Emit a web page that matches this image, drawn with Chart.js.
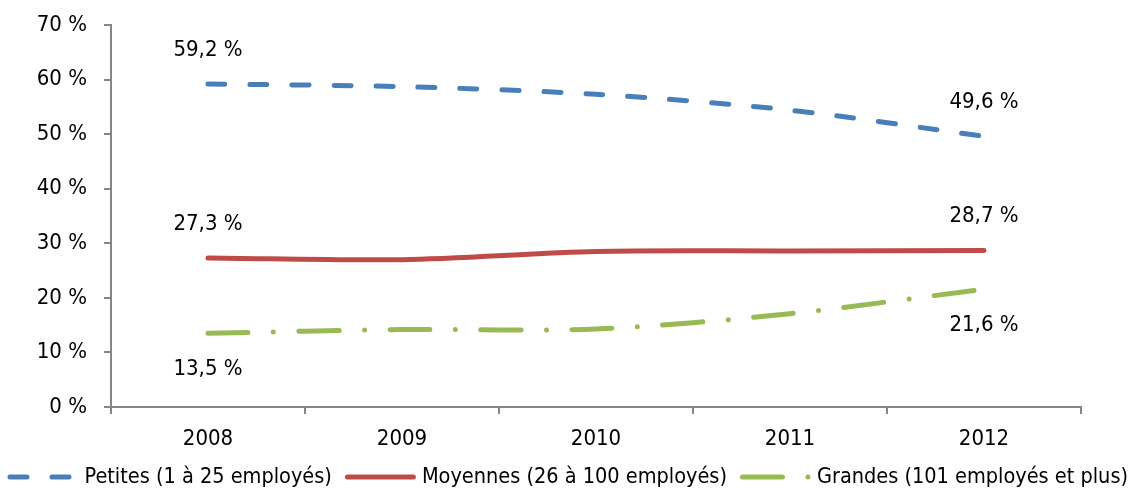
<!DOCTYPE html>
<html lang="fr">
<head>
<meta charset="utf-8">
<script src="https://cdn.jsdelivr.net/npm/chart.js@4/dist/chart.umd.min.js"></script>
<style>
  html, body { margin: 0; padding: 0; background: #ffffff; }
  #wrap { width: 1131px; height: 490px; }
</style>
</head>
<body>
<div id="wrap"><canvas id="chart" width="1131" height="490"></canvas></div>
<script>
// Répartition des entreprises selon la taille, 2008-2012 (%)
const years = ['2008', '2009', '2010', '2011', '2012'];
const petites = [59.2, 58.7, 57.3, 54.4, 49.6];
const moyennes = [27.3, 27.0, 28.5, 28.6, 28.7];
const grandes = [13.5, 14.2, 14.3, 17.1, 21.6];
const seriesNames = [
  'Petites (1 à 25 employés)',
  'Moyennes (26 à 100 employés)',
  'Grandes (101 employés et plus)'
];
const yTicks = [0, 10, 20, 30, 40, 50, 60, 70];

const FONT = "'DejaVu Sans Condensed', 'DejaVu Sans', sans-serif";
const FONT_SIZE = 22;
const LEGEND_FONT_SIZE = 21.5;
const AXIS = '#868686';

function fmt(v) {
  return v.toFixed(1).replace('.', ',') + ' %';
}

// Étiquettes de valeur aux extrémités de chaque courbe
const endLabels = {
  id: 'endLabels',
  afterDatasetsDraw(chart) {
    const ctx = chart.ctx;
    ctx.save();
    ctx.font = FONT_SIZE + 'px ' + FONT;
    ctx.fillStyle = '#000000';
    ctx.textAlign = 'center';
    ctx.textBaseline = 'middle';
    chart.data.datasets.forEach((ds, di) => {
      const meta = chart.getDatasetMeta(di);
      const last = ds.data.length - 1;
      [0, last].forEach(i => {
        const pt = meta.data[i];
        const dy = ds.labelBelow ? 36 : -34;
        ctx.fillText(fmt(ds.data[i]), pt.x, pt.y + dy);
      });
    });
    ctx.restore();
  }
};

// Légende horizontale sous le graphique, avec le motif de trait de chaque série
const lineLegend = {
  id: 'lineLegend',
  afterDraw(chart, args, opts) {
    const ctx = chart.ctx;
    const sample = opts.sampleWidth;
    ctx.save();
    ctx.font = LEGEND_FONT_SIZE + 'px ' + FONT;
    ctx.textBaseline = 'middle';
    ctx.textAlign = 'left';
    const items = chart.data.datasets.map(ds => ({
      ds,
      textW: ctx.measureText(ds.label).width
    }));
    let total = 0;
    items.forEach((it, i) => {
      total += sample + opts.textGap + it.textW;
      if (i < items.length - 1) total += opts.itemGap;
    });
    let x = opts.centerX - total / 2;
    const y = opts.y;
    items.forEach(it => {
      const ds = it.ds;
      ctx.beginPath();
      ctx.lineWidth = ds.borderWidth;
      ctx.strokeStyle = ds.borderColor;
      ctx.lineCap = ds.borderCapStyle || 'butt';
      ctx.setLineDash(ds.borderDash || []);
      ctx.lineDashOffset = 0;
      ctx.moveTo(x, y);
      ctx.lineTo(x + sample, y);
      ctx.stroke();
      ctx.setLineDash([]);
      x += sample + opts.textGap;
      ctx.fillStyle = '#000000';
      ctx.fillText(ds.label, x, y);
      x += it.textW + opts.itemGap;
    });
    ctx.restore();
  }
};

new Chart(document.getElementById('chart'), {
  type: 'line',
  data: {
    labels: years,
    datasets: [
      {
        label: seriesNames[0],
        data: petites,
        borderColor: '#4A7EBB',
        backgroundColor: '#4A7EBB',
        borderWidth: 5,
        borderDash: [17, 25],
        borderCapStyle: 'round',
        labelBelow: false
      },
      {
        label: seriesNames[1],
        data: moyennes,
        borderColor: '#BE4B48',
        backgroundColor: '#BE4B48',
        borderWidth: 5,
        borderCapStyle: 'round',
        labelBelow: false
      },
      {
        label: seriesNames[2],
        data: grandes,
        borderColor: '#98B954',
        backgroundColor: '#98B954',
        borderWidth: 5,
        borderDash: [40, 25.5, 0, 25.5],
        borderCapStyle: 'round',
        labelBelow: true
      }
    ]
  },
  options: {
    responsive: false,
    animation: false,
    devicePixelRatio: 1,
    layout: { padding: { top: 25, right: 50, left: 0, bottom: 35 } },
    elements: {
      point: { radius: 0, hoverRadius: 0 },
      line: { tension: 0.3, fill: false }
    },
    scales: {
      x: {
        type: 'category',
        offset: true,
        grid: {
          offset: true,
          drawOnChartArea: false,
          drawTicks: true,
          tickLength: 7,
          color: AXIS,
          lineWidth: 2
        },
        border: { display: true, color: AXIS, width: 2 },
        ticks: {
          color: '#000000',
          font: { family: FONT, size: FONT_SIZE },
          padding: 12,
          maxRotation: 0
        },
        afterFit(scale) { scale.height = 48; }
      },
      y: {
        min: 0,
        max: 70,
        afterBuildTicks(scale) {
          scale.ticks = yTicks.map(v => ({ value: v }));
        },
        grid: {
          drawOnChartArea: false,
          drawTicks: true,
          tickLength: 7,
          color: AXIS,
          lineWidth: 2
        },
        border: { display: true, color: AXIS, width: 2 },
        ticks: {
          color: '#000000',
          font: { family: FONT, size: FONT_SIZE },
          padding: 17,
          callback: v => v + ' %'
        },
        afterFit(scale) {
          scale.width = 111;
          scale.paddingTop = 0;
          scale.paddingBottom = 0;
        }
      }
    },
    plugins: {
      tooltip: { enabled: false },
      legend: { display: false },
      lineLegend: {
        sampleWidth: 66,
        textGap: 8.5,
        itemGap: 15.5,
        centerX: 569,
        y: 477
      }
    }
  },
  plugins: [endLabels, lineLegend]
});
</script>
</body>
</html>
